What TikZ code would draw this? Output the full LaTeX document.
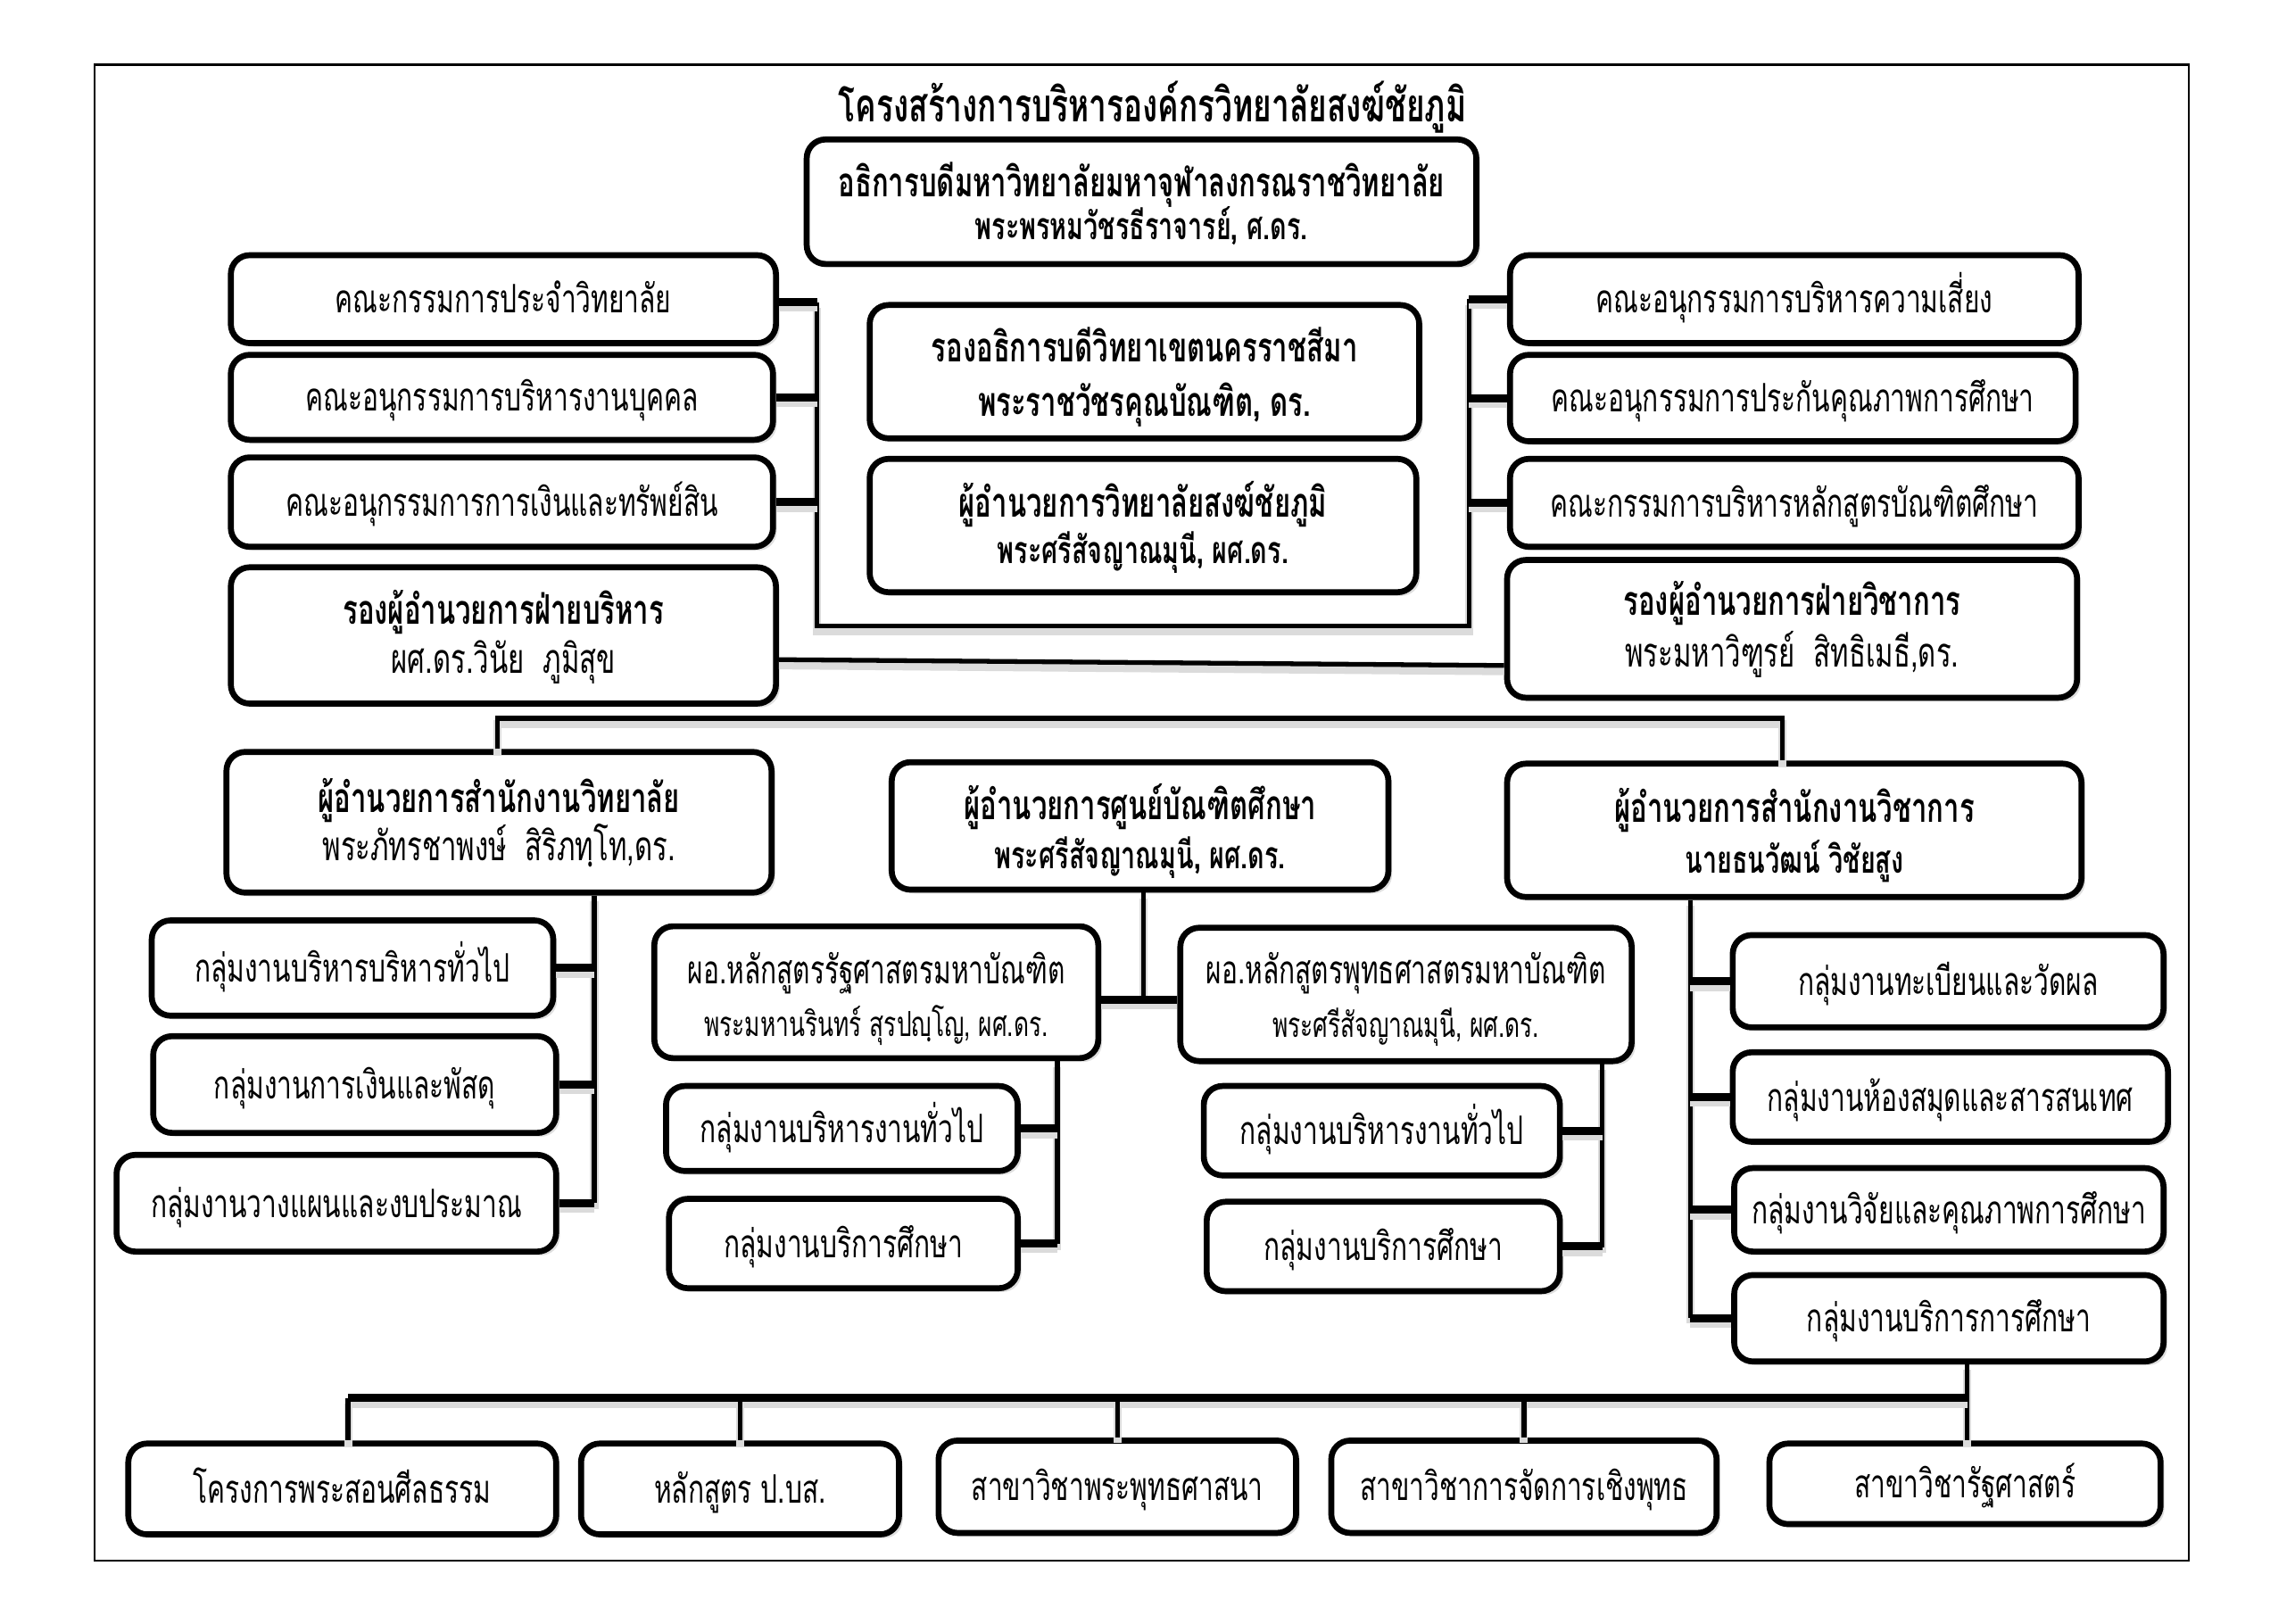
\documentclass[tikz,border=0pt]{standalone}
\usepackage{fontspec}
\setmainfont[Script=Thai,FakeStretch=0.68]{Loma}
\usetikzlibrary{fit,shadows}
% \orgbox{name}{x1}{y1}{x2}{y2}{text}: framed box with one centred line of text
\newcommand\orgbox[6]{%
  \node[box, fit={(#2,#3)(#4,#5)}] (#1) {};
  \node[pr] (#1t) at ({(#2+#4)/2},{(#3+#5)/2+9.5}) {#6};}
\begin{document}
\begin{tikzpicture}[x=0.016487cm, y=-0.016487cm,
  box/.style={draw, line width=1.9pt, rounded corners=6pt, fill=white, inner sep=0pt,
    drop shadow={shadow xshift=1.2pt, shadow yshift=-1.2pt, opacity=0.25}},
  lshadow/.style={preaction={draw=black!14, line width=2.6pt, transform canvas={yshift=-1.8pt}}},
  conn/.style={line width=1.5pt, lshadow},
  stub/.style={line width=2.6pt, lshadow},
  tl/.style={anchor=base, inner sep=0pt},
  hb/.style={tl, font=\fontsize{13}{16}\selectfont\bfseries},
  hbs/.style={tl, font=\fontsize{12}{14}\selectfont\bfseries},
  hr/.style={tl, font=\fontsize{13}{16}\selectfont},
  pr/.style={tl, font=\fontsize{12.5}{15}\selectfont},
  ps/.style={tl, font=\fontsize{11}{13}\selectfont},
]
\useasboundingbox (0,0) rectangle (1560,1103.3);
\begin{scope}[shift={(64.3,44)}, scale=0.996, shift={(-65,-45)}]
\draw[line width=0.6pt] (65,45) rectangle (1494,1066);

\node[tl, font=\fontsize{14.75}{17}\selectfont\bfseries] (title) at (787,84) {โครงสร้างการบริหารองค์กรวิทยาลัยสงฆ์ชัยภูมิ};

% ---- connectors (drawn first, boxes on top)
\coordinate (lb1) at (558,207);
\coordinate (lb2) at (558,428);
\coordinate (rb2) at (1003,428);
\coordinate (rb1) at (1003,205);
\coordinate (h1) at (0,451);
\coordinate (h2) at (0,455);
\coordinate (b3L) at (340,491);
\coordinate (b3R) at (1217,491);
\coordinate (v1) at (406,822);
\coordinate (v2) at (781,683);
\coordinate (v3) at (722,850);
\coordinate (v4) at (1094,852);
\coordinate (v5) at (1154,900);
\coordinate (bb) at (1343,955);
\coordinate (bL) at (238,955);

% top
\node[box, fit={(551,96)(1008,181)}] (top) {};
\node[hb]  (topa) at (779.5,135) {อธิการบดีมหาวิทยาลัยมหาจุฬาลงกรณราชวิทยาลัย};
\node[hbs] (topb) at (779.5,164.5) {พระพรหมวัชรธีราจารย์, ศ.ดร.};

% left committees
\orgbox{L1}{158}{175}{530}{235}{คณะกรรมการประจำวิทยาลัย}
\orgbox{L2}{158}{243}{528}{301}{คณะอนุกรรมการบริหารงานบุคคล}
\orgbox{L3}{158}{313}{528}{374}{คณะอนุกรรมการการเงินและทรัพย์สิน}

% center
\node[box, fit={(594,209)(969,300)}] (C1) {};
\node[hb] (C1a) at (781.5,248) {รองอธิการบดีวิทยาเขตนครราชสีมา};
\node[hb] (C1b) at (781.5,285) {พระราชวัชรคุณบัณฑิต, ดร.};
\node[box, fit={(594,314)(967,405)}] (C2) {};
\node[hb]  (C2a) at (780.5,354) {ผู้อำนวยการวิทยาลัยสงฆ์ชัยภูมิ};
\node[hbs] (C2b) at (780.5,385.5) {พระศรีสัจญาณมุนี, ผศ.ดร.};

% right committees
\orgbox{R1}{1031}{175}{1419}{235}{คณะอนุกรรมการบริหารความเสี่ยง}
\orgbox{R2}{1031}{243}{1417}{302}{คณะอนุกรรมการประกันคุณภาพการศึกษา}
\orgbox{R3}{1031}{314}{1419}{374}{คณะกรรมการบริหารหลักสูตรบัณฑิตศึกษา}

% deputies
\node[box, fit={(158,388)(530,481)}] (DL) {};
\node[hb] (DLa) at (344,427) {รองผู้อำนวยการฝ่ายบริหาร};
\node[hr] (DLb) at (344,460) {ผศ.ดร.วินัย\ \ ภูมิสุข};
\node[box, fit={(1029,383)(1418,477)}] (DR) {};
\node[hb] (DRa) at (1223.5,421) {รองผู้อำนวยการฝ่ายวิชาการ};
\node[hr] (DRb) at (1223.5,456) {พระมหาวิฑูรย์\ \ สิทธิเมธี,ดร.};

% row 3
\node[box, fit={(155,514)(527,610)}] (M1) {};
\node[hb] (M1a) at (341,555) {ผู้อำนวยการสำนักงานวิทยาลัย};
\node[hr] (M1b) at (341,588) {พระภัทรชาพงษ์\ \ สิริภทฺโท,ดร.};
\node[box, fit={(609,521)(948,608)}] (M2) {};
\node[hb]  (M2a) at (778.5,560) {ผู้อำนวยการศูนย์บัณฑิตศึกษา};
\node[hbs] (M2b) at (778.5,593.5) {พระศรีสัจญาณมุนี, ผศ.ดร.};
\node[box, fit={(1029,522)(1421,613)}] (M3) {};
\node[hb]  (M3a) at (1225,562) {ผู้อำนวยการสำนักงานวิชาการ};
\node[hbs] (M3b) at (1225,596.5) {นายธนวัฒน์ วิชัยสูง};

% groups under M1
\orgbox{G1}{104}{629}{378}{694}{กลุ่มงานบริหารบริหารทั่วไป}
\orgbox{G2}{105}{708}{380}{774}{กลุ่มงานการเงินและพัสดุ}
\orgbox{G3}{80}{789}{380}{855}{กลุ่มงานวางแผนและงบประมาณ}

% programmes under M2
\node[box, fit={(447,633)(750,723)}] (P1) {};
\node[pr] (P1a1) at (598.5,672.5) {ผอ.หลักสูตรรัฐศาสตรมหาบัณฑิต};
\node[ps] (P1a2) at (598.5,708) {พระมหานรินทร์ สุรปญฺโญ, ผศ.ดร.};
\node[box, fit={(806,634)(1114,725)}] (P2) {};
\node[pr] (P2a1) at (960,672.5) {ผอ.หลักสูตรพุทธศาสตรมหาบัณฑิต};
\node[ps] (P2a2) at (960,709) {พระศรีสัจญาณมุนี, ผศ.ดร.};
\orgbox{P1a}{455}{742}{695}{800}{กลุ่มงานบริหารงานทั่วไป}
\orgbox{P1b}{457}{819}{695}{880}{กลุ่มงานบริการศึกษา}
\orgbox{P2a}{822}{742}{1065}{803}{กลุ่มงานบริหารงานทั่วไป}
\orgbox{P2b}{824}{821}{1065}{882}{กลุ่มงานบริการศึกษา}

% groups under M3
\orgbox{A1}{1183}{639}{1477}{702}{กลุ่มงานทะเบียนและวัดผล}
\orgbox{A2}{1183}{719}{1480}{780}{กลุ่มงานห้องสมุดและสารสนเทศ}
\orgbox{A3}{1184}{798}{1477}{855}{กลุ่มงานวิจัยและคุณภาพการศึกษา}
\orgbox{A4}{1184}{871}{1477}{930}{กลุ่มงานบริการการศึกษา}

% bottom
\orgbox{B1}{88}{986}{380}{1048}{โครงการพระสอนศีลธรรม}
\orgbox{B2}{397}{986}{614}{1048}{หลักสูตร ป.บส.}
\orgbox{B3}{641}{984}{885}{1047}{สาขาวิชาพระพุทธศาสนา}
\orgbox{B4}{909}{984}{1172}{1047}{สาขาวิชาการจัดการเชิงพุทธ}
\orgbox{B5}{1208}{986}{1475}{1041}{สาขาวิชารัฐศาสตร์}

% ---- connectors
\draw[conn] (lb1) -- (lb2) -- (rb2) -- (rb1);
\draw[stub] (L1.east |- lb1) -- (lb1);
\draw[stub] (L2.east) -- (L2.east -| lb1);
\draw[stub] (L3.east) -- (L3.east -| lb1);
\draw[stub] (R1.west) -- (R1.west -| rb1);
\draw[stub] (R2.west) -- (R2.west -| rb1);
\draw[stub] (R3.west) -- (R3.west -| rb1);

\draw[conn] (DL.east |- h1) -- (DR.west |- h2);

\draw[conn] (M1.north -| b3L) -- (b3L) -- (b3R) -- (M3.north -| b3R);

\draw[conn] (M1.south -| v1) -- (v1);
\draw[stub] (G1.east) -- (G1.east -| v1);
\draw[stub] (G2.east) -- (G2.east -| v1);
\draw[stub] (G3.east) -- (G3.east -| v1);

\draw[conn] (M2.south -| v2) -- (v2);
\draw[stub] (P1.east |- v2) -- (P2.west |- v2);

\draw[conn] (P1.south -| v3) -- (v3);
\draw[stub] (P1a.east) -- (P1a.east -| v3);
\draw[stub] (P1b.east) -- (P1b.east -| v3);

\draw[conn] (P2.south -| v4) -- (v4);
\draw[stub] (P2a.east) -- (P2a.east -| v4);
\draw[stub] (P2b.east) -- (P2b.east -| v4);

\draw[conn] (M3.south -| v5) -- (v5);
\draw[stub] (A1.west) -- (A1.west -| v5);
\draw[stub] (A2.west) -- (A2.west -| v5);
\draw[stub] (A3.west) -- (A3.west -| v5);
\draw[stub] (A4.west) -- (A4.west -| v5);

\draw[conn] (A4.south -| bb) -- (B5.north -| bb);
\draw[stub] (bL) -- (bb);
\draw[conn] (bL) -- (B1.north -| bL);
\draw[conn] (B2.north |- bb) -- (B2.north);
\draw[conn] (B3.north |- bb) -- (B3.north);
\draw[conn] (B4.north |- bb) -- (B4.north);
\end{scope}
\end{tikzpicture}
\end{document}
